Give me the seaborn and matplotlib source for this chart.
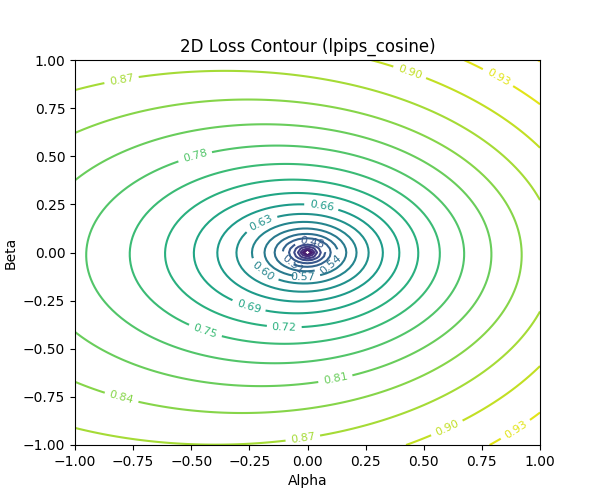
import numpy as np
import matplotlib
matplotlib.use("Agg")
import matplotlib.pyplot as plt
import seaborn as sns

sns.set_theme(style="white")
plt.rcParams.update(matplotlib.rcParamsDefault)

# grid axes
alpha = np.linspace(-1, 1, 101)
beta = np.linspace(-1, 1, 101)
# surface shape parameters estimated from the reference contours
scale_alpha = 1.4
scale_beta = 1.0
amplitude = 0.882
exponent = 0.21
tilt_alpha = 0.035
tilt_beta = 0.005
contour_levels = np.arange(0.30, 0.99, 0.03)

A, B = np.meshgrid(alpha, beta)
r = np.sqrt((A / scale_alpha) ** 2 + (B / scale_beta) ** 2)
loss = amplitude * r ** exponent + tilt_alpha * A + tilt_beta * B
loss = loss - (tilt_alpha * A + tilt_beta * B) * (r < 0.05)

fig, ax = plt.subplots(figsize=(6, 5), dpi=100)
cs = ax.contour(A, B, loss, levels=contour_levels, cmap="viridis",
                vmin=contour_levels[0], vmax=contour_levels[-1])
ax.clabel(cs, inline=True, fontsize=8, fmt="%.2f")
ax.set_title("2D Loss Contour (lpips_cosine)")
ax.set_xlabel("Alpha")
ax.set_ylabel("Beta")
fig.savefig("out.png", dpi=100)
